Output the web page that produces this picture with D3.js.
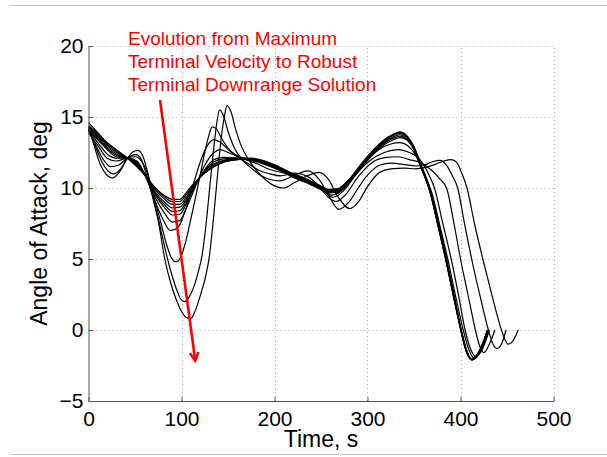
<!DOCTYPE html>
<html>
<head>
<meta charset="utf-8">
<script src="https://cdnjs.cloudflare.com/ajax/libs/d3/7.8.5/d3.min.js"></script>
<style>
	body { margin: 0; background: #fff; }
	svg { display: block; font-family: "Liberation Sans", Arial, Helvetica, sans-serif; }
</style>
</head>
<body>
<div id="chart"></div>
<script>

////////////////////////////////////////////
////////////DATA//////
////////////////////////////////////////////

var xTicks = [0, 100, 200, 300, 400, 500],
	yTicks = [-5, 0, 5, 10, 15, 20],
	yTickLabels = ["\u22125", "0", "5", "10", "15", "20"];

var xLabel = "Time, s",
	yLabel = "Angle of Attack, deg";

var noteLines = [
	"Evolution from Maximum",
	"Terminal Velocity to Robust",
	"Terminal Downrange Solution"
	];
// note anchor and arrow, in data units (time, deg)
var noteAnchor = [42.5, 20.1],
	arrowFrom = [76.9, 16.2],
	arrowTo = [114.8, -2.15];

// sample times shared by the converged ("robust") bundle
var bundleTime = [0,10,20,30,42, 52,62,72,82,90, 98,106,115,125,135, 145,160,175,190,205,
	220,235,248,258,268, 280,292,305,318,328, 335,342,350,358,367, 376,385,393,401,406, 412,418,424,429];

var bundle1 = [14.6,13.9,13.2,12.7,12.1, 11.5,10.8,10.0,9.45,9.2, 9.2,9.75,10.45,11.05,11.5, 11.8,12.0,12.1,11.9,11.5,
	11.0,10.6,10.2,9.9,9.95, 10.6,11.6,12.6,13.4,13.8, 13.95,13.7,12.9,11.6,10.0, 7.6,5.0,2.5,0.0,-1.3, -2.05,-1.7,-0.9,0.0];
var bundle2 = [14.4,13.8,13.1,12.6,12.1, 11.55,10.8,9.95,9.35,9.05, 9.05,9.6,10.4,11.05,11.55, 11.85,12.0,12.05,11.85,11.45,
	10.95,10.55,10.15,9.85,9.9, 10.55,11.5,12.5,13.35,13.75, 13.9,13.65,12.85,11.5,9.9, 7.5,4.9,2.4,-0.1,-1.35, -2.05,-1.75,-0.95,-0.05];
var bundle3 = [14.3,13.7,13.0,12.5,12.1, 11.6,10.8,9.85,9.2,8.85, 8.85,9.45,10.35,11.1,11.6, 11.9,12.05,12.05,11.8,11.4,
	10.9,10.5,10.1,9.8,9.85, 10.5,11.45,12.45,13.3,13.7, 13.85,13.6,12.8,11.4,9.8, 7.3,4.7,2.2,-0.2,-1.45, -2.1,-1.8,-1.0,-0.1];
var bundle4 = [14.2,13.6,12.9,12.4,12.1, 11.65,10.8,9.7,9.0,8.6, 8.65,9.3,10.3,11.15,11.7, 11.95,12.05,12.0,11.75,11.35,
	10.85,10.45,10.05,9.75,9.8, 10.45,11.4,12.4,13.2,13.6, 13.75,13.55,12.8,11.45,9.85, 7.4,4.8,2.3,-0.1,-1.4, -2.05,-1.75,-0.95,0.0];
var bundle5 = [14.1,13.5,12.8,12.3,12.1, 11.7,10.8,9.6,8.8,8.35, 8.4,9.15,10.25,11.2,11.85, 12.05,12.1,12.0,11.7,11.3,
	10.8,10.4,10.0,9.7,9.75, 10.4,11.35,12.35,13.15,13.5, 13.65,13.45,12.75,11.4,9.8, 7.35,4.75,2.25,-0.15,-1.45, -2.1,-1.8,-1.0,-0.05];
var bundle6 = [14.0,13.4,12.7,12.2,12.1, 11.75,10.8,9.5,8.6,8.1, 8.15,9.0,10.2,11.3,12.0, 12.15,12.1,11.95,11.65,11.25,
	10.75,10.35,9.95,9.65,9.7, 10.35,11.3,12.3,13.05,13.4, 13.55,13.4,12.7,11.35,9.75, 7.3,4.7,2.2,-0.2,-1.5, -2.1,-1.85,-1.05,-0.1];

// early iterations, [time, deg]
var iterE = [[0,14.0],[10,13.2],[20,12.4],[30,12.1],[42,12.1],[52,11.85],[62,10.8],[72,9.3],[82,8.2],[90,7.6],
	[98,7.7],[106,8.7],[115,10.1],[125,11.6],[135,12.5],[142,12.7],[150,12.5],[165,12.15],[180,12.0],[195,11.65],
	[210,11.2],[225,10.8],[240,10.35],[252,9.85],[262,9.5],[272,9.8],[285,10.8],[298,11.9],[312,12.7],[325,13.1],
	[335,13.2],[343,13.0],[351,12.4],[360,11.1],[369,9.7],[378,7.3],[387,4.8],[395,2.3],[403,0.0],[408,-1.2],
	[414,-1.95],[420,-1.65],[426,-0.85],[430,0.0]];

var iterD = [[0,13.9],[10,13.0],[20,12.1],[30,11.9],[42,12.1],[52,11.9],[62,10.7],[72,9.0],[80,7.8],[88,7.0],
	[96,7.2],[104,8.4],[112,10.1],[120,11.8],[128,13.0],[135,13.4],[142,13.2],[152,12.6],[165,12.1],[180,11.75],
	[195,11.3],[208,11.1],[222,10.95],[236,10.6],[250,9.95],[263,9.35],[275,9.85],[288,11.0],[302,11.9],[318,12.5],
	[333,12.7],[345,12.5],[355,12.1],[364,11.2],[372,10.0],[381,7.5],[390,5.0],[398,2.4],[405,0.0],[410,-1.2],
	[416,-1.85],[422,-1.55],[427,-0.8],[431,0.0]];

var iterC = [[0,14.1],[8,13.0],[16,12.0],[24,11.5],[32,11.6],[42,12.1],[50,12.2],[57,11.9],[64,10.9],[71,9.2],
	[78,7.5],[84,6.0],[89,5.1],[94,4.8],[99,5.1],[104,6.1],[110,7.8],[115,9.3],[120,10.9],[125,12.5],
	[129,13.6],[133,14.3],[137,14.2],[143,13.5],[150,12.8],[160,12.2],[172,11.7],[185,11.2],[195,11.0],[206,10.85],
	[222,11.05],[236,10.8],[248,10.1],[257,9.4],[266,9.05],[276,9.5],[290,10.8],[305,11.8],[320,12.15],[333,12.2],
	[345,12.0],[358,11.75],[368,11.3],[377,10.7],[385,10.0],[393,7.5],[400,5.0],[408,2.5],[416,0.0],[420,-1.0],
	[425,-1.6],[431,-1.0],[437,0.0]];

var iterB = [[0,14.2],[7,13.0],[14,11.9],[21,11.2],[27,11.0],[34,11.3],[42,12.1],[47,12.3],[51,12.35],[56,12.1],
	[62,11.0],[68,9.6],[74,8.1],[80,6.4],[85,5.0],[90,3.8],[95,2.8],[99,2.2],[103,2.0],[108,2.3],
	[113,3.0],[118,4.1],[122,5.2],[126,7.2],[130,9.8],[134,12.4],[138,14.6],[141,15.5],[145,15.1],[150,14.0],
	[157,12.8],[165,12.0],[175,11.4],[185,10.9],[195,10.6],[206,10.5],[220,10.85],[236,11.2],[248,10.6],[258,9.5],
	[269,8.5],[280,9.0],[290,10.0],[300,10.9],[313,11.6],[325,11.75],[340,11.65],[352,11.55],[362,11.65],[370,11.85],
	[378,11.95],[385,11.6],[391,10.9],[397,10.0],[404,7.6],[412,5.0],[421,2.4],[430,0.0],[435,-1.0],[439,-1.3],
	[444,-1.0],[449,0.0]];

var iterA = [[0,14.3],[6,13.0],[13,11.6],[20,10.9],[26,10.7],[33,11.1],[42,12.1],[48,12.55],[53,12.65],[58,12.3],
	[64,11.0],[70,9.1],[75,7.7],[82,5.0],[88,3.4],[94,2.2],[101,1.2],[106,0.85],[110,0.8],[115,1.4],
	[121,2.6],[126,3.8],[130,5.2],[134,7.6],[138,10.4],[142,13.1],[146,15.0],[149,15.8],[153,15.4],[158,14.2],
	[164,13.0],[172,12.0],[180,11.3],[190,10.6],[200,10.15],[210,10.0],[222,10.4],[235,10.85],[248,11.1],[258,10.6],
	[268,9.4],[281,8.55],[290,9.0],[300,10.1],[313,11.1],[325,11.35],[340,11.4],[352,11.35],[362,11.45],[372,11.65],
	[382,11.9],[390,12.0],[396,11.8],[401,11.1],[407,10.0],[415,7.5],[424,5.0],[434,2.4],[444,0.0],[448,-0.7],
	[451,-1.0],[456,-0.8],[462,0.0]];

////////////////////////////////////////////
////////////SETUP///////////////////////////
////////////////////////////////////////////

var width = 607,
	height = 457,
	plot = {left: 88.5, right: 553.5, top: 46, bottom: 401};

var svgContainer = d3.select("#chart")
	.append("svg")
	.attr("width", width)
	.attr("height", height);

var xScale = d3.scaleLinear().domain([0, 500]).range([plot.left, plot.right]);
var yScale = d3.scaleLinear().domain([-5, 20]).range([plot.bottom, plot.top]);

function pairUp(times, values) {
	return times.map(function(t, i) { return [t, values[i]]; });
}

var curves = [
	pairUp(bundleTime, bundle1),
	pairUp(bundleTime, bundle2),
	pairUp(bundleTime, bundle3),
	pairUp(bundleTime, bundle4),
	pairUp(bundleTime, bundle5),
	pairUp(bundleTime, bundle6),
	iterE, iterD, iterC, iterB, iterA
	];

////////////////////////////////////////////
////////////DRAWING/////////////////////////
////////////////////////////////////////////

// page frame lines
[5.5, 454.5].forEach(function(yy) {
	svgContainer.append("line")
	.attr("x1", 10).attr("x2", width)
	.attr("y1", yy).attr("y2", yy)
	.attr("stroke", "#c6c6c6")
	.attr("stroke-width", 1);
});

drawGrid();
drawCurves();
drawAxes();
drawNote();

function drawGrid() {
	var grid = svgContainer.append("g").attr("class", "grid");

	grid.selectAll("line.gx")
	.data(xTicks.filter(function(d) { return d !== 0; }))
	.enter().append("line")
	.attr("class", "gx")
	.attr("x1", function(d) { return Math.round(xScale(d)) + 0.5; })
	.attr("x2", function(d) { return Math.round(xScale(d)) + 0.5; })
	.attr("y1", plot.bottom)
	.attr("y2", plot.top);

	grid.selectAll("line.gy")
	.data(yTicks.filter(function(d) { return d !== -5; }))
	.enter().append("line")
	.attr("class", "gy")
	.attr("x1", plot.left)
	.attr("x2", plot.right)
	.attr("y1", function(d) { return Math.round(yScale(d)) + 0.5; })
	.attr("y2", function(d) { return Math.round(yScale(d)) + 0.5; });

	grid.selectAll("line")
	.attr("stroke", "#a8a8a8")
	.attr("stroke-width", 1)
	.attr("stroke-dasharray", "1,3");
}

function drawCurves() {
	var line = d3.line()
	.x(function(d) { return xScale(d[0]); })
	.y(function(d) { return yScale(d[1]); })
	.curve(d3.curveMonotoneX);

	svgContainer.append("g")
	.selectAll("path")
	.data(curves)
	.enter().append("path")
	.attr("d", line)
	.attr("fill", "none")
	.attr("stroke", "#000")
	.attr("stroke-width", 1.2)
	.attr("stroke-linejoin", "round");
}

function drawAxes() {
	var xAxis = d3.axisBottom(xScale)
	.tickValues(xTicks)
	.tickSizeInner(-4)
	.tickSizeOuter(0)
	.tickPadding(10.5)
	.tickFormat(d3.format("d"));

	var yAxis = d3.axisLeft(yScale)
	.tickValues(yTicks)
	.tickSizeInner(-4.5)
	.tickSizeOuter(0)
	.tickPadding(5)
	.tickFormat(function(d, i) { return yTickLabels[i]; });

	var gx = svgContainer.append("g")
	.attr("transform", "translate(0," + plot.bottom + ")")
	.call(xAxis);

	var gy = svgContainer.append("g")
	.attr("transform", "translate(" + plot.left + ",0)")
	.call(yAxis);

	[gx, gy].forEach(function(g) {
		g.select(".domain").attr("stroke", "#555");
		g.selectAll(".tick line").attr("stroke", "#555");
		g.selectAll(".tick text")
		.attr("fill", "#000")
		.style("font-size", "21px")
		.style("font-family", "'Liberation Sans', Arial, Helvetica, sans-serif");
	});

	svgContainer.append("text")
	.attr("x", (plot.left + plot.right) / 2)
	.attr("y", 447)
	.attr("text-anchor", "middle")
	.style("font-size", "23px")
	.text(xLabel);

	svgContainer.append("text")
	.attr("transform", "translate(46.5," + (plot.top + plot.bottom) / 2 + ") rotate(-90)")
	.attr("text-anchor", "middle")
	.style("font-size", "23px")
	.text(yLabel);
}

function drawNote() {
	var red = "#ff0000";

	svgContainer.append("g")
	.selectAll("text")
	.data(noteLines)
	.enter().append("text")
	.attr("x", xScale(noteAnchor[0]))
	.attr("y", function(d, i) { return yScale(noteAnchor[1]) + i * 23; })
	.attr("fill", red)
	.style("font-size", "19px")
	.text(function(d) { return d; });

	var x1 = xScale(arrowFrom[0]), y1 = yScale(arrowFrom[1]),
		x2 = xScale(arrowTo[0]), y2 = yScale(arrowTo[1]);

	svgContainer.append("line")
	.attr("x1", x1).attr("y1", y1)
	.attr("x2", x2).attr("y2", y2)
	.attr("stroke", red)
	.attr("stroke-width", 2.6);

	// open arrow head
	var ang = Math.atan2(y2 - y1, x2 - x1),
		len = 9,
		spread = 0.5;
	var head = [
		[x2 - len * Math.cos(ang - spread), y2 - len * Math.sin(ang - spread)],
		[x2, y2],
		[x2 - len * Math.cos(ang + spread), y2 - len * Math.sin(ang + spread)]
		];

	svgContainer.append("path")
	.attr("d", d3.line()(head))
	.attr("fill", "none")
	.attr("stroke", red)
	.attr("stroke-width", 2.6)
	.attr("stroke-linejoin", "miter");
}
</script>
</body>
</html>
